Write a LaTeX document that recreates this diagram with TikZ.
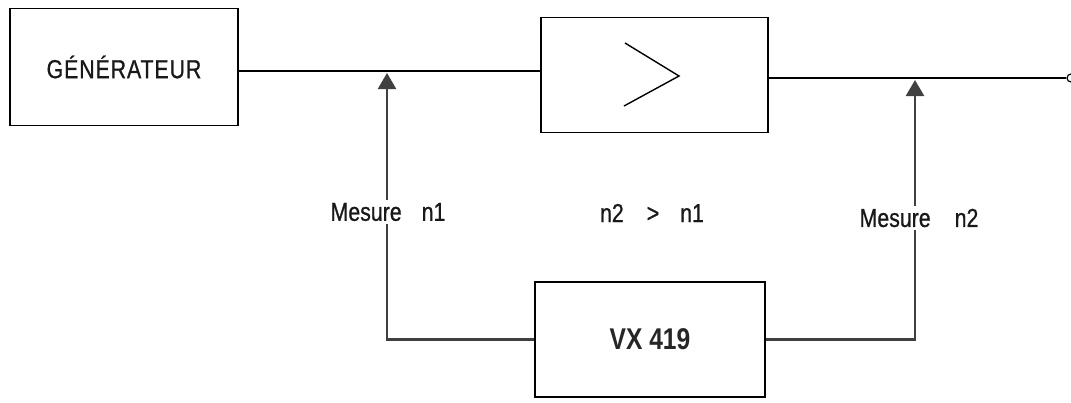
\documentclass[tikz,border=0pt]{standalone}
\usepackage{fontspec}
\setmainfont{Liberation Sans}[FakeStretch=0.82]
\newfontfamily\lblfont{Liberation Sans}[FakeStretch=0.82, FakeBold=0.8]
\usetikzlibrary{arrows.meta}
\tikzset{
  box/.style={draw=black, line width=1.5pt, fill=white, inner sep=0pt},
  wire/.style={draw=black, line width=1.4pt},
  meas/.style={draw=black!75, line width=2.4pt, -{Triangle[width=18pt,length=16pt]}, shorten >=2pt},
  lbl/.style={text=black!90, fill=white, inner sep=3pt, font=\lblfont\fontsize{26}{30}\selectfont},
}
\begin{document}
\begin{tikzpicture}[x=1pt,y=-1pt]
\useasboundingbox (0,0) rectangle (1071,402);
% boxes
\node[box, minimum width=228pt, minimum height=117pt, text=black!90,
      font=\lblfont\fontsize{26}{30}\selectfont\addfontfeatures{LetterSpace=3.5}] (gen) at (124,67) {GÉNÉRATEUR};
\node[box, minimum width=227pt, minimum height=115pt] (amp) at (654.5,75) {};
\node[box, minimum width=230pt, minimum height=115pt, text=black!85,
      font=\fontsize{30}{34}\selectfont\bfseries] (vx) at (650,339.5) {VX 419};
% chevron inside amplifier
\coordinate (c1) at (625,43);
\coordinate (c2) at (679,76);
\coordinate (c3) at (624,106);
\draw[wire] (c1) -- (c2) -- (c3);
% junctions
\coordinate (j1) at (387,71);
\coordinate (j2) at (915,78);
\node[draw=black, line width=1.2pt, circle, minimum size=8pt, inner sep=0pt, fill=white] (out) at (1071,78) {};
% main line
\draw[wire] (gen.east |- j1) -- (amp.west |- j1);
\draw[wire] (amp.east |- j2) -- (out.west);
% measurement lines
\draw[meas] (vx.west) -| (j1);
\draw[meas] (vx.east) -| (j2);
% labels
\node[lbl] (m1) at (388,212) {Mesure\hspace{20pt}n1};
\node[lbl] (cmp) at (652,213) {n2\hspace{23pt}>\hspace{21pt}n1};
\node[lbl] (m2) at (919,218) {Mesure\hspace{24pt}n2};
\end{tikzpicture}
\end{document}
